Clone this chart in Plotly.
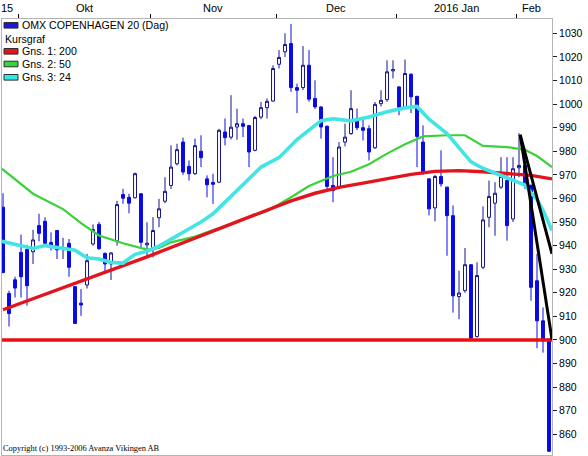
import plotly.graph_objects as go

# OHLC per trading day (index 0 = late Sep 2015)
opens = [956.3, 919.7, 925.5, 937.1, 938.3, 937.4, 948.5, 950.3, 941.3, 946.4,
         938.3, 941.0, 922.6, 915.6, 923.3, 940.7, 949.0, 936.7, 932.2, 942.1,
         961.7, 960.5, 960.3, 962.0, 940.3, 938.6, 951.8, 958.8, 965.5, 974.7,
         983.9, 973.6, 970.5, 980.0, 968.3, 966.8, 966.9, 988.2, 986.0, 990.3,
         991.7, 990.9, 980.4, 994.5, 998.5, 1001.3, 1016.9, 1022.2, 1025.7, 1007.0,
         1007.0, 1016.5, 1002.4, 998.8, 990.6, 965.5, 964.8, 983.9, 987.5, 993.9,
         990.0, 989.6, 981.5, 1000.2, 1001.9, 1014.1, 1007.3, 998.8, 1012.7, 1003.3,
         983.9, 968.3, 956.0, 969.3, 964.8, 952.7, 918.4, 920.9, 931.9, 901.4,
         930.8, 952.0, 958.0, 964.8, 967.6, 951.3, 973.0, 974.0, 965.5, 925.1,
         908.1, 900.3]
highs = [962.2, 920.9, 926.8, 944.7, 940.3, 946.7, 953.5, 952.0, 945.6, 946.6,
         943.3, 942.8, 922.6, 921.6, 936.5, 949.0, 950.0, 937.1, 937.2, 959.0,
         964.1, 962.0, 971.0, 962.2, 949.9, 952.1, 959.8, 969.0, 982.5, 983.2,
         985.8, 976.1, 985.4, 986.8, 969.8, 970.5, 989.5, 993.9, 1003.8, 998.1,
         993.9, 991.2, 995.0, 1000.9, 1002.4, 1016.5, 1022.9, 1030.0, 1034.0, 1008.7,
         1024.6, 1022.9, 1010.1, 999.0, 991.0, 977.5, 983.9, 991.7, 1005.9, 998.1,
         994.5, 991.0, 1000.9, 1005.9, 1018.6, 1018.6, 1007.5, 1018.9, 1013.0, 1003.5,
         991.0, 968.5, 970.0, 980.4, 965.0, 957.0, 929.4, 939.0, 932.0, 932.9,
         956.6, 967.6, 966.9, 977.5, 977.5, 977.5, 987.7, 975.0, 966.0, 936.5,
         913.8, 900.5]
lows = [928.3, 905.7, 918.0, 918.0, 914.5, 932.2, 941.8, 940.5, 937.9, 934.3,
        934.3, 926.8, 906.8, 910.2, 921.8, 940.0, 938.2, 928.0, 925.4, 940.0,
        957.7, 953.7, 960.0, 939.3, 935.0, 935.0, 947.8, 958.0, 964.0, 974.0,
        970.0, 967.6, 970.0, 973.3, 960.5, 957.7, 966.5, 982.5, 985.0, 984.9,
        986.0, 973.3, 980.0, 993.6, 993.9, 1001.0, 1015.1, 1020.0, 1005.2, 996.2,
        1006.0, 1001.0, 998.0, 985.4, 964.0, 958.4, 964.0, 982.1, 987.0, 989.0,
        984.6, 976.1, 981.0, 999.0, 1001.0, 1010.9, 995.3, 998.0, 996.2, 973.3,
        970.0, 952.8, 950.3, 965.0, 935.7, 911.6, 908.8, 920.0, 900.5, 901.0,
        930.0, 947.8, 944.2, 964.0, 942.1, 950.0, 969.0, 964.0, 916.6, 896.5,
        894.6, 852.5]
closes = [928.6, 911.2, 922.0, 926.8, 923.0, 942.4, 945.2, 941.0, 940.3, 938.2,
          939.0, 930.8, 907.0, 914.8, 933.6, 946.8, 938.7, 932.2, 936.9, 957.4,
          960.1, 958.0, 970.5, 941.4, 941.0, 946.4, 955.6, 963.0, 973.3, 980.7,
          971.2, 970.5, 982.4, 977.3, 965.8, 966.0, 988.9, 985.8, 990.2, 991.7,
          990.6, 979.7, 994.3, 998.5, 1001.2, 1015.1, 1019.8, 1025.3, 1007.0, 1005.9,
          1016.5, 1002.1, 998.8, 990.3, 965.1, 963.4, 981.8, 986.0, 998.1, 990.0,
          988.9, 979.7, 999.9, 1001.6, 1013.7, 1014.7, 998.7, 1013.0, 1003.1, 986.3,
          971.2, 955.6, 969.3, 966.2, 952.7, 918.7, 919.9, 931.9, 900.7, 927.3,
          950.9, 960.8, 962.2, 969.3, 948.5, 972.6, 974.0, 965.5, 922.3, 908.1,
          899.6, 852.8]
day = list(range(len(closes)))

# moving averages
ma200_x = [0, 4, 8, 12, 16, 20, 24, 28, 32, 36, 40, 44, 48, 52, 56, 60, 64, 68,
           72, 76, 80, 84, 88, 91.5]
ma200_y = [912.8, 916.5, 920.1, 924.0, 927.7, 931.5, 935.2, 939.2, 943.1, 947.0,
           951.0, 955.0, 959.0, 962.2, 964.7, 966.5, 968.2, 970.2, 971.5, 971.8,
           971.3, 970.6, 969.8, 968.3]
ma50_x = [-0.2, 5, 10, 13, 16, 20, 24, 26, 28, 32, 36, 40, 44, 48, 51, 55, 58, 61,
          64, 67, 70, 74, 77, 80, 84, 87, 89, 91.5]
ma50_y = [972.6, 962.0, 955.5, 949.5, 944.3, 941.0, 938.3, 939.0, 941.4, 943.8,
          947.4, 951.3, 954.6, 960.5, 965.3, 969.5, 971.3, 974.5, 979.0, 983.0,
          986.3, 986.8, 986.8, 982.3, 981.8, 980.6, 978.0, 973.3]
ma24_x = [-0.2, 3, 5, 7, 10, 12, 14, 16, 18, 20, 22, 24, 26, 29, 33, 35, 39, 43,
          46, 49, 53, 55, 58, 61, 64, 67, 69, 71, 74, 76, 78, 80, 83, 85, 87, 88,
          89, 90, 91.5]
ma24_y = [941.8, 940.0, 938.8, 940.0, 939.0, 938.0, 934.8, 934.3, 932.9, 932.6,
          936.3, 937.6, 939.8, 944.3, 950.0, 953.5, 963.5, 973.3, 977.3, 985.0,
          993.0, 993.8, 992.9, 994.5, 996.8, 998.4, 999.0, 993.6, 987.5, 981.5,
          975.5, 972.8, 969.6, 967.6, 965.7, 962.5, 959.5, 955.0, 946.4]

support_x = [-0.2, 91.5]
support_y = [900, 900]
trend_x = [86.2, 91.5]
trend_a = [987.0, 936.5]
trend_b = [987.0, 900.2]

month_edges = [2.5, 24.5, 45.5, 65.5, 85.5]
month_pos = [0.7, 13.5, 35, 55.5, 75.5, 88.1]
month_text = ["15", "Okt", "Nov", "Dec", "2016 Jan", "Feb"]
y_ticks = list(range(860, 1031, 10))

W, H = 588, 456
L, R, T, B = 2, 36, 19, 1


def px(x):
    return (x - L) / (W - L - R)


def py(y):
    return (H - B - y) / (H - T - B)


fig = go.Figure()

fig.add_trace(go.Candlestick(
    x=day, open=opens, high=highs, low=lows, close=closes,
    increasing=dict(line=dict(color='#14148c', width=1), fillcolor='white'),
    decreasing=dict(line=dict(color='#0a0ae6', width=1), fillcolor='#0a0ae6'),
    whiskerwidth=0,
    showlegend=False,
    hoverinfo='skip'
))

for xs, ys, color, width in [
    (ma50_x, ma50_y, '#3ad23a', 2.2),
    (ma200_x, ma200_y, '#e4141c', 3.4),
    (ma24_x, ma24_y, '#44e4e4', 3.6),
]:
    fig.add_trace(go.Scatter(
        x=xs, y=ys, mode='lines',
        line=dict(color=color, width=width),
        showlegend=False, hoverinfo='skip'
    ))

fig.add_trace(go.Scatter(
    x=support_x, y=support_y, mode='lines',
    line=dict(color='#e81010', width=3.4),
    showlegend=False, hoverinfo='skip'
))

for ys in (trend_a, trend_b):
    fig.add_trace(go.Scatter(
        x=trend_x, y=ys, mode='lines',
        line=dict(color='black', width=3),
        showlegend=False, hoverinfo='skip'
    ))

# month labels centred on each month, ticks on the month edges
for pos, txt in zip(month_pos, month_text):
    fig.add_annotation(
        x=pos, y=1, xref='x', yref='paper',
        text=txt, showarrow=False, xanchor='center', yanchor='bottom',
        yshift=3, font=dict(size=11, color='black')
    )

# legend box, drawn by hand to look like the original
legend_rows = [
    ('#1a1ad6', 'OMX COPENHAGEN 20 (Dag)', 25.3),
    (None, 'Kursgraf', 39.3),
    ('#e4141c', 'Gns. 1: 200', 51.3),
    ('#3ad23a', 'Gns. 2: 50', 64.0),
    ('#33e8e8', 'Gns. 3: 24', 77.3),
]
for color, txt, yc in legend_rows:
    if color is None:
        tx = 3
    else:
        fig.add_shape(
            type='rect', xref='paper', yref='paper',
            x0=px(4), x1=px(18), y0=py(yc - 2.8), y1=py(yc + 2.8),
            fillcolor=color, line=dict(color='#303030', width=1)
        )
        tx = 20
    fig.add_annotation(
        x=px(tx), y=py(yc), xref='paper', yref='paper',
        text=txt, showarrow=False, xanchor='left', yanchor='middle',
        font=dict(size=10.6, color='black')
    )

fig.add_annotation(
    x=px(1), y=py(448.5), xref='paper', yref='paper',
    text='Copyright (c) 1993-2006 Avanza Vikingen AB', showarrow=False,
    xanchor='left', yanchor='middle',
    font=dict(family='Liberation Serif, Times New Roman, serif', size=8.4, color='black')
)

fig.update_layout(
    width=W, height=H,
    margin=dict(l=L, r=R, t=T, b=B),
    paper_bgcolor='white', plot_bgcolor='white',
    font=dict(family='Liberation Sans, Arial, sans-serif', size=11, color='black'),
    showlegend=False,
    xaxis=dict(
        range=[-0.17, 91.5], side='top', rangeslider=dict(visible=False),
        showgrid=False, zeroline=False, showticklabels=False,
        tickvals=month_edges, ticks='outside', ticklen=4, tickcolor='black',
        showline=True, linecolor='#b4b4b4', linewidth=1, mirror=True
    ),
    yaxis=dict(
        range=[851.2, 1036.1], side='right',
        tickvals=y_ticks, ticks='outside', ticklen=4, tickcolor='#202020',
        showgrid=False, zeroline=False,
        showline=True, linecolor='#b4b4b4', linewidth=1, mirror=True,
        tickfont=dict(size=10.5)
    ),
)

# the page body has an 8px margin by default; drop it so the chart sits at 0,0
fig.write_html("out.html", config={'displayModeBar': False},
               post_script="document.body.style.margin='0';")
